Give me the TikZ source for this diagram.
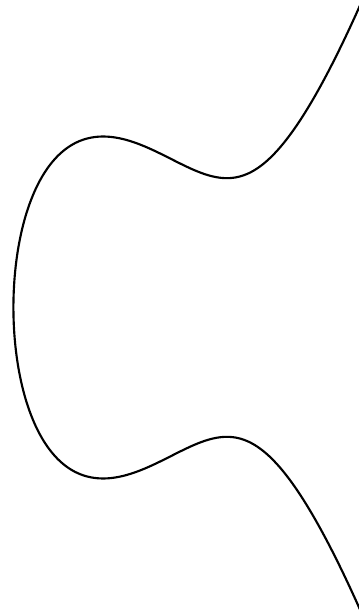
\documentclass[tikz,border=0pt]{standalone}
\usepackage{amsmath}
\usepackage{tikz}

\begin{document}
\begin{tikzpicture}[scale=1]
  \useasboundingbox (-2.177,-4.057) rectangle (2.559,4.057);
  \clip (-2.177,-4.057) rectangle (2.559,4.057);
  % y^2 = x^3 - 2x + 4, with x = -2 + t^2
  \draw[thick, smooth, samples=241, domain=-2.16:2.16, variable=\t]
    plot ({-2+\t*\t}, {\t*sqrt((\t*\t-3)^2+1)});
\end{tikzpicture}
\end{document}
